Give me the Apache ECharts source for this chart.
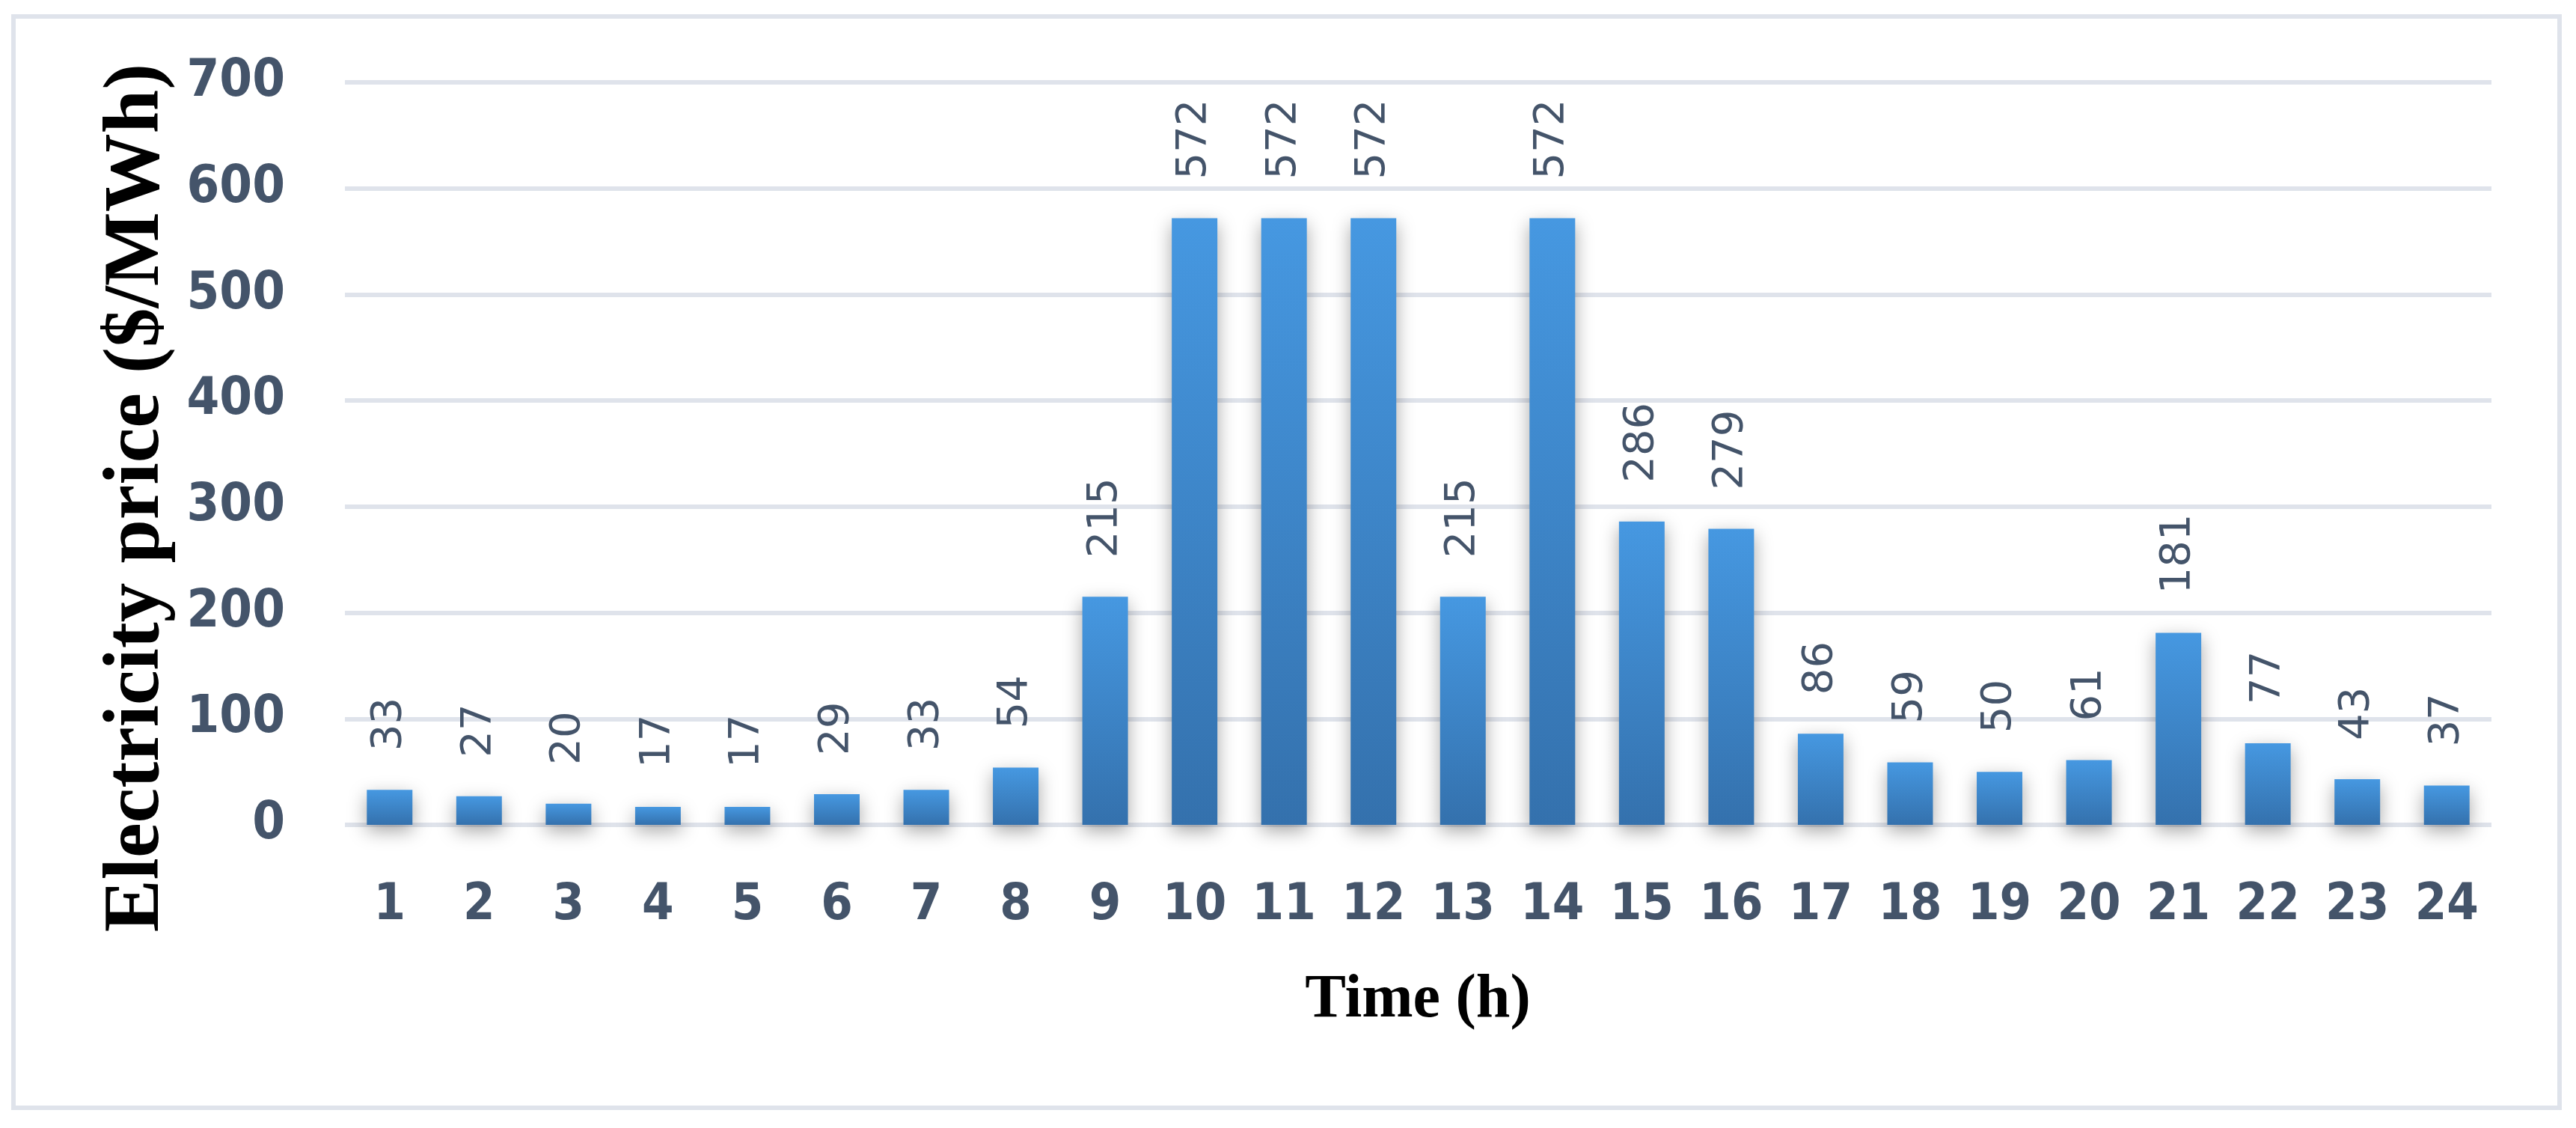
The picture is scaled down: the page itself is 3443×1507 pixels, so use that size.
<!DOCTYPE html>
<html>
<head>
<meta charset="utf-8">
<script src="https://cdn.jsdelivr.net/npm/echarts@6/dist/echarts.min.js"></script>
<style>html,body{margin:0;padding:0;background:#fff;}#c{width:3443px;height:1507px;}</style>
</head>
<body>
<div id="c"></div>
<script>
const hours = ['1','2','3','4','5','6','7','8','9','10','11','12','13','14','15','16','17','18','19','20','21','22','23','24'];
const prices = [33,27,20,17,17,29,33,54,215,572,572,572,215,572,286,279,86,59,50,61,181,77,43,37];
const yTitle = 'Electricity price ($/MWh)';
const xTitle = 'Time (h)';
const yMin = 0, yMax = 700, yStep = 100;

const chart = echarts.init(document.getElementById('c'), null, {renderer:'canvas'});
chart.setOption({
  backgroundColor: '#ffffff',
  animation: false,
  grid: {left: 461, right: 113, top: 110, bottom: 405, containLabel: false},
  xAxis: {
    type: 'category', data: hours,
    axisLine: {show: false}, axisTick: {show: false},
    axisLabel: {fontFamily: '"DejaVu Sans Condensed", "DejaVu Sans"', fontWeight: 'bold', fontSize: 68, color: '#44546A', margin: 74, lineHeight: 68}
  },
  yAxis: {
    type: 'value', min: yMin, max: yMax, interval: yStep,
    axisLine: {show: false}, axisTick: {show: false},
    axisLabel: {fontFamily: '"DejaVu Sans Condensed", "DejaVu Sans"', fontWeight: 'bold', fontSize: 70, color: '#44546A', margin: 80},
    splitLine: {lineStyle: {color: '#DFE3EB', width: 6}}
  },
  series: [{
    type: 'bar', data: prices, barWidth: '51%',
    itemStyle: {
      color: new echarts.graphic.LinearGradient(0,0,0,1,[{offset:0,color:'#4698E1'},{offset:1,color:'#3471AD'}]),
      shadowBlur: 25, shadowColor: 'rgba(0,0,0,0.35)', shadowOffsetY: 8
    },
    label: {
      show: true, position: 'top', rotate: 90, distance: 52, align: 'left', verticalAlign: 'middle',
      fontFamily: 'DejaVu Sans', fontSize: 56, color: '#44546A'
    }
  }],
  graphic: [
    {type: 'rect', shape: {x: 18, y: 22, width: 3403, height: 1458}, style: {fill: 'none', stroke: '#DFE3EB', lineWidth: 6}, z: -1},
    {type: 'text', x: 184, y: 665, rotation: Math.PI/2, style: {text: yTitle, font: 'bold 105px "Liberation Serif"', fill: '#000', textAlign: 'center', textVerticalAlign: 'middle'}},
    {type: 'text', x: 1895, y: 1337, style: {text: xTitle, font: 'bold 82px "Liberation Serif"', fill: '#000', textAlign: 'center', textVerticalAlign: 'middle'}}
  ]
});
</script>
</body>
</html>
